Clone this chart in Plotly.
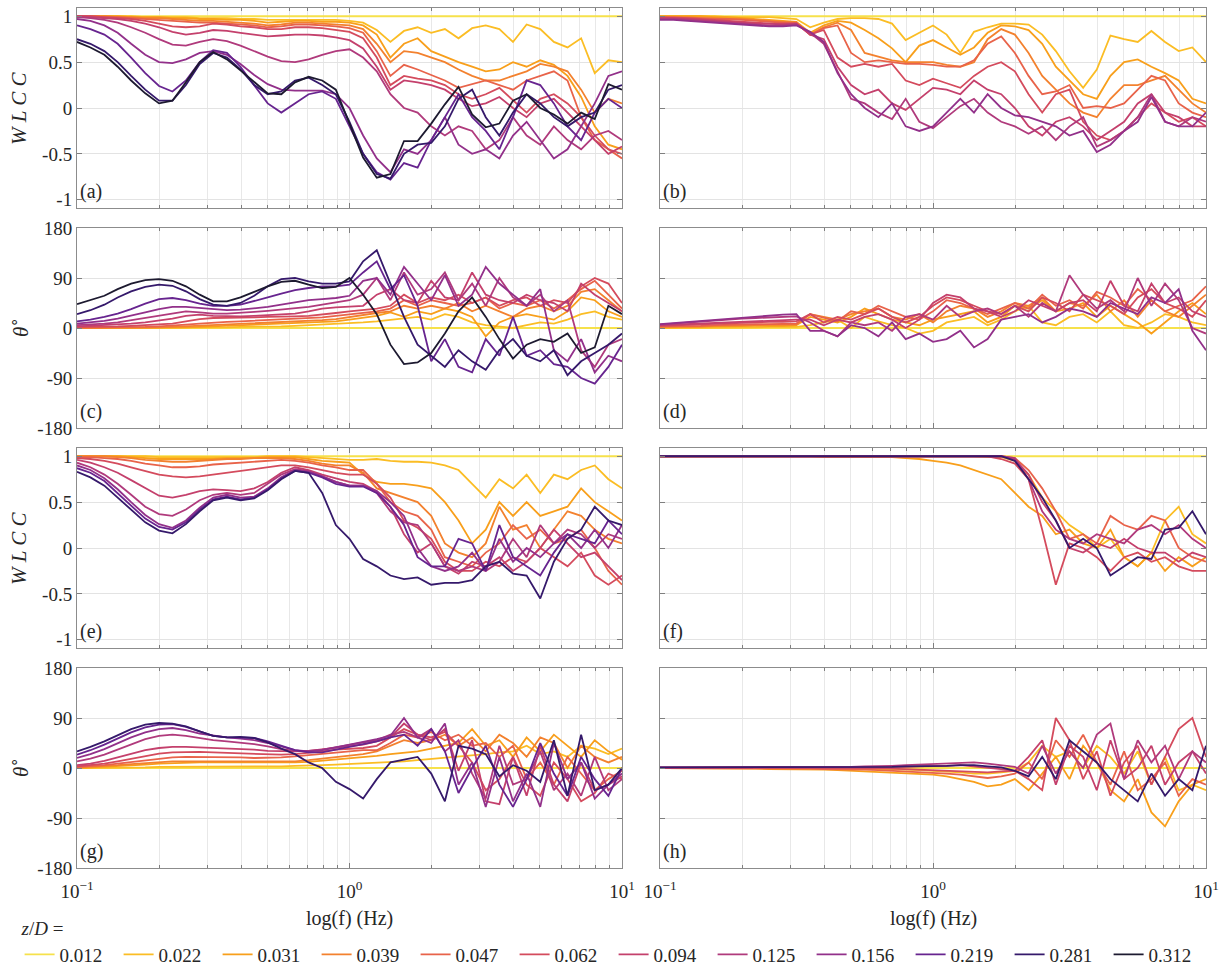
import plotly.graph_objects as go

# Frequency grid (Hz), 0.05-decade spacing from 0.1 to 10 Hz
FREQ = [0.1, 0.112, 0.126, 0.141, 0.158, 0.178, 0.2, 0.224, 0.251, 0.282, 0.316,
        0.355, 0.398, 0.447, 0.501, 0.562, 0.631, 0.708, 0.794, 0.891, 1.0,
        1.122, 1.259, 1.413, 1.585, 1.778, 1.995, 2.239, 2.512, 2.818, 3.162,
        3.548, 3.981, 4.467, 5.012, 5.623, 6.31, 7.079, 7.943, 8.913, 10.0]

ZD = ["0.012", "0.022", "0.031", "0.039", "0.047", "0.062",
      "0.094", "0.125", "0.156", "0.219", "0.281", "0.312"]
COLORS = ["#f6e14b", "#fbbd24", "#f89f1b", "#f3812e", "#e8634a", "#d44b5d",
          "#c4406c", "#b03a7c", "#92308a", "#67248f", "#35196b", "#1d1a30"]

# ---------------- (a) WLCC ----------------
A_012 = [1, 1, 1, 1, 1, 1, 1, 1, 1, 1, 1, 1, 1, 1, 1, 1, 1, 1, 1, 1, 1,
         1, 1, 1, 1, 1, 1, 1, 1, 1, 1, 1, 1, 1, 1, 1, 1, 1, 1, 1, 1]
A_022 = [1, 1, 1, 1, 1, .99, .99, .99, .99, .98, .98, .98, .97, .97, .96, .96, .96, .96, .96, .96, .95,
         .93, .85, .72, .84, .88, .82, .86, .76, .87, .9, .86, .72, .91, .86, .72, .66, .76, .38, .52, .5]
A_031 = [1, 1, 1, 1, .99, .99, .99, .98, .98, .97, .97, .96, .96, .95, .93, .94, .95, .95, .94, .94, .93,
         .9, .8, .55, .7, .76, .62, .56, .5, .45, .4, .42, .5, .45, .52, .47, .35, .12, -.2, -.4, -.45]
A_039 = [1, 1, 1, .99, .99, .98, .98, .97, .96, .95, .95, .94, .93, .92, .9, .91, .93, .93, .92, .91, .9,
         .86, .7, .5, .62, .6, .55, .5, .42, .35, .3, .3, .35, .4, .48, .45, .4, .2, -.05, .1, .05]
A_047 = [1, 1, .99, .99, .98, .97, .96, .95, .94, .93, .93, .92, .91, .9, .88, .89, .91, .91, .9, .89, .87,
         .82, .62, .35, .47, .42, .36, .3, .22, .26, .3, .25, .2, .3, .35, .4, .3, -.1, -.35, -.45, -.55]
A_062 = [1, 1, .99, .98, .97, .95, .92, .89, .88, .89, .92, .91, .89, .88, .86, .86, .88, .88, .87, .85, .83,
         .76, .55, .25, .35, .32, .3, .25, .15, .1, .15, .22, .08, -.05, .1, .15, .05, -.1, -.3, -.45, -.5]
A_094 = [1, .99, .98, .97, .95, .92, .88, .83, .8, .82, .85, .84, .82, .8, .78, .79, .8, .8, .79, .77, .74,
         .65, .45, .2, .3, .28, .25, .2, .1, .02, .05, .12, 0, -.1, .05, .1, -.05, -.2, -.35, -.5, -.42]
A_125 = [.99, .98, .96, .93, .88, .82, .75, .69, .68, .72, .75, .73, .68, .62, .56, .51, .5, .53, .58, .62, .64,
         .55, .4, .15, 0, -.05, -.2, -.3, -.2, -.25, -.45, -.35, -.1, -.3, -.4, -.2, -.35, -.45, -.3, -.25, -.35]
A_156 = [.97, .95, .9, .82, .7, .58, .5, .49, .53, .6, .62, .58, .48, .36, .26, .2, .19, .19, .19, .15, 0,
         -.3, -.55, -.7, -.45, -.5, -.35, -.1, -.4, -.5, -.45, -.55, -.3, -.15, -.35, -.55, -.45, -.2, .05, .35, .4]
A_219 = [.9, .86, .8, .7, .55, .38, .24, .18, .3, .5, .63, .6, .45, .25, .05, -.05, .05, .15, .18, .1, -.2,
         -.5, -.7, -.78, -.6, -.65, -.35, -.1, .15, -.1, -.25, -.45, -.1, .3, .25, .05, -.2, -.35, -.05, .1, 0]
A_281 = [.75, .7, .62, .5, .35, .2, .08, .08, .25, .48, .6, .55, .42, .25, .15, .18, .3, .33, .25, .15, -.15,
         -.5, -.72, -.77, -.5, -.4, -.38, -.2, .1, .2, -.1, -.3, -.05, .15, .05, -.1, -.2, -.1, -.05, .2, .25]
A_312 = [.72, .66, .58, .45, .3, .16, .05, .08, .28, .5, .61, .53, .41, .28, .16, .15, .28, .34, .3, .2, -.17,
         -.54, -.76, -.72, -.36, -.36, -.17, .04, .23, -.07, -.21, -.17, .08, .15, 0, -.07, -.17, -.05, -.12, .26, .2]

# ---------------- (b) WLCC ----------------
B_012 = [1, 1, 1, 1, 1, 1, 1, 1, 1, 1, 1, 1, 1, 1, 1, 1, 1, 1, 1, 1, 1,
         1, 1, 1, 1, 1, 1, 1, 1, 1, 1, 1, 1, 1, 1, 1, 1, 1, 1, 1, 1]
B_022 = [1, 1, 1, 1, 1, .99, .99, .99, .99, .98, .97, .88, .93, .97, .98, .98, .97, .92, .74, .82, .9,
         .8, .6, .83, .88, .92, .92, .91, .8, .62, .4, .22, .42, .79, .75, .72, .84, .72, .62, .66, .5]
B_031 = [1, 1, 1, 1, .99, .99, .98, .97, .96, .95, .94, .82, .9, .95, .93, .85, .76, .65, .5, .68, .74,
         .66, .58, .66, .82, .9, .89, .85, .7, .45, .3, .15, .1, .35, .5, .53, .45, .38, .3, .1, .05]
B_039 = [.99, .99, .99, .98, .98, .97, .97, .96, .95, .94, .93, .8, .88, .93, .85, .6, .56, .52, .5, .5, .5,
         .47, .45, .5, .75, .86, .8, .6, .35, .2, .05, -.05, -.1, .1, .25, .25, .3, .35, .2, .05, -.05]
B_047 = [.99, .99, .98, .98, .97, .97, .96, .95, .94, .93, .93, .8, .87, .9, .6, .5, .52, .5, .48, .48, .47,
         .45, .45, .52, .7, .78, .6, .35, .15, .18, .25, 0, .02, 0, .05, .2, .35, .3, .05, -.05, -.1]
B_062 = [.99, .98, .98, .97, .96, .95, .94, .93, .92, .92, .92, .8, .85, .55, .45, .48, .45, .48, .3, .25, .32,
         .27, .22, .35, .45, .5, .4, .15, -.05, .15, .2, -.15, -.3, -.35, -.25, -.1, .05, -.05, -.15, -.1, -.2]
B_094 = [.98, .98, .97, .96, .95, .94, .93, .92, .92, .91, .92, .8, .75, .45, .25, .15, .2, .05, -.02, .1, .22,
         .2, .15, .3, .2, .15, 0, -.2, -.3, -.15, -.1, -.2, -.35, -.25, -.15, .05, .15, -.05, -.1, -.2, -.2]
B_125 = [.97, .97, .96, .95, .94, .93, .92, .91, .9, .9, .91, .82, .7, .4, .1, .05, -.05, -.12, .1, -.15, -.22,
         -.1, .02, .1, -.05, -.15, -.2, -.28, -.2, -.35, -.2, -.1, -.42, -.35, -.25, -.1, .15, -.15, -.2, -.1, -.15]
B_156 = [.96, .96, .95, .94, .93, .92, .91, .9, .89, .89, .9, .83, .72, .38, .15, 0, -.1, .05, -.2, -.25, -.2,
         -.05, .1, -.05, .15, 0, -.08, -.1, -.15, -.2, -.3, -.25, -.48, -.4, -.25, -.15, .12, -.15, -.2, -.2, -.05]

# ---------------- (c) phase ----------------
C_012 = [0, 0, 0, 0, 0, 0, 0, 0, 0, 0, 0, 0, 0, 0, 0, 0, 0, 0, 0, 0, 0,
         0, 0, 0, 0, 0, 0, 0, 0, 0, 0, 0, 0, 0, 0, 0, 0, 0, 0, 0, 0]
C_022 = [0, 0, 0, 0, 0, 0, 0, 0, 0, 1, 1, 1, 2, 2, 3, 3, 4, 5, 6, 7, 8,
         10, 12, 15, 18, 20, 15, 25, 20, 10, 5, 2, 0, 5, 10, 8, 15, 25, 30, 20, 15]
C_031 = [0, 0, 0, 0, 0, 0, 0, 1, 1, 2, 3, 4, 5, 6, 7, 8, 9, 10, 11, 12, 15,
         18, 22, 28, 20, 30, 25, 35, 30, 20, -15, 10, 20, 25, 20, 15, 30, 55, 50, 30, 20]
C_039 = [0, 0, 1, 1, 1, 1, 1, 2, 3, 4, 5, 6, 7, 8, 9, 10, 11, 12, 14, 16, 20,
         24, 27, 30, 40, 35, 40, 35, 45, 30, 40, 30, 20, 35, 40, 30, 40, 65, 70, 50, 30]
C_047 = [1, 1, 1, 2, 2, 2, 3, 4, 6, 8, 10, 11, 12, 13, 14, 15, 16, 17, 19, 22, 25,
         28, 30, 35, 50, 40, 50, 45, 40, 45, 55, 35, 45, 40, 50, 35, 50, 70, 85, 60, 35]
C_062 = [2, 2, 3, 3, 4, 5, 6, 8, 12, 16, 18, 18, 18, 19, 20, 20, 21, 22, 24, 27, 30,
         33, 35, 40, 60, 45, 55, 50, 60, 45, 55, 40, 50, 55, 40, 50, 45, 75, 90, 80, 45]
C_094 = [3, 4, 5, 6, 8, 10, 13, 17, 22, 24, 22, 21, 21, 22, 23, 24, 26, 30, 35, 37, 38,
         40, 60, 70, 50, 45, 85, 55, 50, 100, 60, 50, 45, 60, 50, 45, 30, 80, 60, 45, 30]
C_125 = [5, 6, 8, 10, 14, 18, 23, 27, 30, 28, 26, 26, 27, 29, 31, 33, 35, 38, 42, 46, 50,
         60, 90, 50, 100, 60, 70, 100, 50, 80, 40, 90, 55, 40, 60, 30, 50, -40, -70, -30, -20]
C_156 = [8, 10, 13, 17, 22, 28, 34, 38, 38, 36, 33, 32, 33, 35, 38, 42, 46, 50, 52, 54, 58,
         85, 90, 60, 110, 80, 50, 95, 40, 60, 110, 80, 60, 40, 70, -40, -60, -20, -80, -50, -60]
C_219 = [12, 15, 20, 26, 34, 44, 52, 54, 50, 44, 40, 40, 42, 48, 55, 62, 68, 72, 75, 75, 78,
         100, 120, 70, 95, 40, -60, -20, -70, -80, -20, -50, 20, -50, -40, -65, -70, -90, -100, -70, -30]
C_281 = [25, 32, 42, 55, 66, 74, 78, 76, 66, 52, 42, 40, 45, 58, 75, 88, 90, 84, 80, 80, 84,
         120, 140, 80, 20, -30, -50, -70, -40, -60, -75, -40, -20, -50, -60, -40, -85, -60, -45, -30, -10]
C_312 = [43, 50, 58, 70, 80, 86, 88, 85, 75, 60, 48, 48, 55, 65, 75, 83, 85, 78, 72, 74, 90,
         60, 25, -30, -65, -62, -45, -10, 30, 55, 20, -20, -55, -30, -20, -25, -10, -45, -35, 40, 25]

# ---------------- (d) phase ----------------
D_012 = [0, 0, 0, 0, 0, 0, 0, 0, 0, 0, 0, 0, 0, 0, 0, 0, 0, 0, 0, 0, 0,
         0, 0, 0, 0, 0, 0, 0, 0, 0, 0, 0, 0, 0, 0, 0, 0, 0, 0, 0, 0]
D_022 = [0, 0, 0, 1, 1, 1, 1, 1, 2, 2, 2, 5, 10, 15, 0, 20, 12, 5, 0, -10, -5,
         10, 15, 20, 5, 15, 30, 40, 10, 5, 20, 25, 10, 30, 5, 0, 10, 25, 20, 10, 5]
D_031 = [1, 1, 2, 2, 3, 3, 3, 4, 4, 4, 5, 20, 15, 10, 20, 35, 25, 15, 10, 5, 15,
         20, 25, 30, 10, 20, 40, 35, 50, 30, 35, 45, 20, 40, 25, 10, -10, 10, 30, 45, 25]
D_039 = [2, 2, 3, 3, 4, 4, 5, 5, 6, 6, 6, 25, 20, 15, 25, 30, 35, 20, 15, 25, 10,
         30, 40, 35, 20, 30, 45, 40, 55, 30, 45, 40, 60, 30, 50, 20, 50, 30, 20, 40, 60]
D_047 = [3, 3, 4, 4, 5, 6, 6, 7, 7, 8, 8, 25, 18, 12, 30, 25, 40, 30, 20, 15, 30,
         50, 45, 35, 25, 35, 45, 35, 60, 40, 50, 35, 65, 55, 40, 70, 50, 30, 40, 50, 75]
D_062 = [4, 5, 5, 6, 7, 8, 9, 10, 11, 11, 12, 25, 10, 20, 15, 25, 35, 20, 10, 20, 40,
         55, 50, 40, 30, 25, 40, 30, 55, 45, 30, 60, 50, 40, 25, 55, 70, 45, 35, 20, 50]
D_094 = [5, 6, 7, 8, 9, 11, 12, 13, 14, 15, 15, 15, 5, 15, 10, 20, 25, 15, 0, 15, 45,
         60, 55, 35, 30, 20, 30, 50, 40, 30, 45, 50, 30, 85, 40, 30, 80, 45, 55, 30, 20]
D_125 = [6, 8, 10, 11, 13, 15, 17, 18, 19, 20, 21, 10, -5, -15, 10, 5, 10, -5, 20, 25, 15,
         40, 20, 30, 35, 25, 40, 20, 45, 30, 95, 60, 35, 50, 30, 90, 40, 80, 50, 0, -10]
D_156 = [7, 9, 11, 13, 15, 17, 19, 21, 23, 24, 25, -5, -5, -15, 5, 0, -15, 10, -20, -10, -25,
         -20, -5, -35, -20, 15, 20, 25, 10, 20, 35, 30, 20, 45, 35, 25, 55, 45, 70, -5, -40]

# ---------------- (e) WLCC ----------------
E_012 = [1, 1, 1, 1, 1, 1, 1, 1, 1, 1, 1, 1, 1, 1, 1, 1, 1, 1, 1, 1, 1,
         1, 1, 1, 1, 1, 1, 1, 1, 1, 1, 1, 1, 1, 1, 1, 1, 1, 1, 1, 1]
E_022 = [1, 1, 1, 1, 1, 1, .99, .99, .99, .99, .99, .99, .99, .99, 1, 1, 1, .99, .98, .97, .96,
         .96, .97, .95, .94, .94, .93, .9, .85, .7, .55, .75, .65, .8, .6, .8, .75, .85, .9, .75, .65]
E_031 = [1, 1, 1, 1, .99, .98, .97, .97, .97, .97, .97, .98, .98, .98, .99, .99, .99, .97, .95, .94, .93,
         .8, .72, .7, .7, .68, .65, .5, .3, .05, .2, .5, .35, .5, .35, .4, .45, .65, .5, .4, .3]
E_039 = [1, 1, 1, .99, .98, .96, .95, .94, .94, .95, .96, .97, .97, .98, .98, .98, .97, .95, .92, .9, .9,
         .82, .65, .6, .55, .5, .35, .05, -.05, -.1, .05, .45, .2, .25, 0, .2, .4, .35, .2, .1, .05]
E_047 = [.99, .99, .98, .97, .95, .92, .9, .88, .88, .89, .91, .92, .93, .94, .95, .96, .95, .93, .9, .88, .85,
         .85, .7, .5, .4, .35, .2, -.1, -.15, -.2, -.05, .05, .25, .1, .2, .05, .1, .2, 0, -.25, -.4]
E_062 = [.98, .97, .95, .92, .88, .84, .8, .78, .77, .78, .8, .82, .84, .86, .88, .9, .9, .88, .85, .82, .8,
         .8, .7, .55, .3, .22, .1, -.15, -.25, -.25, -.15, -.2, -.1, -.15, 0, -.1, -.2, -.05, -.3, -.4, -.3]
E_094 = [.96, .93, .88, .82, .74, .65, .57, .55, .58, .62, .64, .63, .62, .65, .72, .82, .88, .85, .8, .76, .72,
         .7, .62, .45, .15, -.05, .05, -.2, -.28, -.15, -.2, -.1, -.25, -.15, 0, .2, .05, -.1, -.05, -.2, -.35]
E_125 = [.93, .88, .8, .7, .58, .45, .37, .35, .42, .52, .58, .6, .58, .6, .7, .8, .86, .84, .78, .72, .68,
         .68, .6, .4, .28, .25, .05, -.2, -.25, -.2, -.25, -.15, .1, -.1, .25, .05, .2, .15, 0, .15, .1]
E_156 = [.9, .85, .76, .64, .5, .36, .26, .22, .3, .44, .55, .58, .55, .56, .65, .77, .85, .83, .78, .72, .68,
         .68, .62, .5, .35, 0, -.2, -.25, -.2, -.05, -.25, .1, -.15, 0, -.1, .05, .15, 0, .2, 0, .25]
E_219 = [.87, .82, .73, .6, .46, .32, .23, .2, .28, .42, .53, .56, .53, .55, .64, .76, .84, .82, .77, .7, .67,
         .67, .6, .45, .25, -.1, -.2, -.2, .1, .05, -.25, .25, -.1, -.2, -.3, -.05, .15, .1, .05, .3, .15]
E_281 = [.83, .77, .68, .55, .42, .28, .19, .16, .26, .4, .52, .55, .52, .54, .63, .75, .84, .82, .6, .25, .1,
         -.12, -.2, -.3, -.34, -.32, -.4, -.38, -.38, -.35, -.2, -.15, -.28, -.3, -.55, -.15, .1, .2, .45, .3, .25]

# ---------------- (f) WLCC ----------------
F_012 = [1, 1, 1, 1, 1, 1, 1, 1, 1, 1, 1, 1, 1, 1, 1, 1, 1, 1, 1, 1, 1,
         1, 1, 1, 1, 1, 1, 1, 1, 1, 1, 1, 1, 1, 1, 1, 1, 1, 1, 1, 1]
F_022 = [1, 1, 1, 1, 1, 1, 1, 1, 1, 1, 1, 1, 1, 1, 1, 1, 1, 1, 1, 1, 1,
         1, 1, 1, .99, .99, .95, .8, .55, .4, .25, .15, 0, .1, -.1, -.2, -.05, .3, .45, .15, .05]
F_031 = [1, 1, 1, 1, 1, 1, 1, 1, 1, 1, 1, 1, .99, .99, .99, .99, .99, .99, .98, .97, .95,
         .93, .9, .85, .8, .75, .6, .45, .35, .15, .2, .05, 0, .2, -.1, -.2, -.05, -.25, -.1, -.2, -.1]
F_047 = [1, 1, 1, 1, 1, 1, 1, 1, 1, 1, 1, 1, 1, 1, 1, 1, 1, 1, 1, 1, 1,
         1, 1, 1, 1, 1, .98, .85, .65, .4, .1, .15, .05, .35, .25, .2, .35, .3, 0, -.1, -.15]
F_062 = [1, 1, 1, 1, 1, 1, 1, 1, 1, 1, 1, 1, 1, 1, 1, 1, 1, 1, 1, 1, 1,
         1, 1, 1, 1, .97, .92, .75, .2, -.4, .05, 0, -.1, -.25, -.1, -.05, -.15, -.1, -.2, -.25, -.25]
F_094 = [1, 1, 1, 1, 1, 1, 1, 1, 1, 1, 1, 1, 1, 1, 1, 1, 1, 1, 1, 1, 1,
         1, 1, 1, 1, 1, .97, .8, .5, .3, 0, -.05, .05, 0, .1, 0, -.05, -.05, -.15, -.05, -.1]
F_125 = [1, 1, 1, 1, 1, 1, 1, 1, 1, 1, 1, 1, 1, 1, 1, 1, 1, 1, 1, 1, 1,
         1, 1, 1, 1, 1, .98, .75, .4, .2, .1, .05, .15, .1, .05, .2, .25, .15, .25, .1, 0]
F_281 = [1, 1, 1, 1, 1, 1, 1, 1, 1, 1, 1, 1, 1, 1, 1, 1, 1, 1, 1, 1, 1,
         1, 1, 1, 1, 1, .95, .75, .55, .3, 0, .1, 0, -.3, -.2, -.1, -.12, .2, .22, .4, .15]

# ---------------- (g) phase ----------------
G_012 = [0, 0, 0, 0, 0, 0, 0, 0, 0, 0, 0, 0, 0, 0, 0, 0, 0, 0, 0, 0, 0,
         0, 0, 0, 0, 0, 0, 0, 0, 0, 0, 0, 0, 0, 0, 0, 0, 0, 0, 0, 0]
G_022 = [0, 0, 0, 1, 1, 1, 2, 2, 2, 3, 3, 3, 3, 3, 3, 3, 4, 4, 5, 6, 7,
         8, 9, 10, 12, 14, 16, 18, 20, 22, 25, 28, 30, 40, 25, 30, 20, 40, 35, 25, 35]
G_031 = [0, 1, 2, 3, 5, 6, 8, 9, 10, 10, 10, 10, 10, 10, 9, 9, 10, 11, 13, 15, 18,
         20, 22, 25, 28, 30, 35, 40, 45, 70, 40, 50, 20, 55, 30, 60, 40, 20, 50, 30, 15]
G_039 = [1, 2, 3, 5, 7, 9, 11, 12, 12, 12, 12, 12, 11, 11, 11, 11, 12, 14, 17, 20, 22,
         25, 30, 40, 50, 45, 50, 60, 40, 55, 30, 60, 45, 20, 55, 45, 0, 40, 20, 10, 20]
G_047 = [2, 3, 5, 8, 11, 14, 17, 19, 20, 20, 20, 20, 19, 18, 18, 19, 21, 23, 26, 28, 30,
         32, 32, 45, 60, 55, 65, 50, 60, 40, 45, 20, 40, -20, 10, -30, 20, -10, -40, -20, -5]
G_062 = [3, 5, 8, 12, 17, 22, 26, 28, 29, 29, 28, 27, 26, 25, 24, 24, 25, 27, 30, 33, 35,
         36, 40, 55, 70, 60, 55, 65, 40, 10, -40, -20, 20, -30, -50, 10, -20, -60, -45, -10, -20]
G_094 = [5, 8, 13, 19, 26, 32, 36, 38, 38, 37, 36, 36, 35, 33, 31, 30, 30, 31, 34, 37, 40,
         42, 48, 55, 80, 60, 50, 70, -5, 50, -60, -65, 20, -50, 40, -30, -60, 10, -40, -30, -15]
G_125 = [12, 17, 24, 33, 43, 52, 58, 60, 58, 54, 50, 48, 46, 43, 39, 34, 31, 31, 33, 37, 42,
         45, 50, 60, 65, 55, 70, 30, 50, -10, -55, 40, -30, -20, 30, -40, -10, -50, 20, -40, -20]
G_156 = [18, 25, 34, 44, 55, 64, 70, 72, 68, 62, 58, 55, 53, 50, 45, 38, 32, 30, 32, 37, 42,
         46, 52, 58, 90, 55, 45, 80, -30, 10, -70, 20, -60, -10, -70, 45, -20, 10, -55, -30, -10]
G_219 = [24, 32, 42, 53, 64, 73, 78, 79, 74, 66, 58, 55, 55, 54, 48, 40, 32, 28, 28, 33, 38,
         42, 48, 55, 60, 40, 70, 30, -45, 0, 40, -30, -70, -20, 45, -10, -50, 20, -20, -50, 0]
G_281 = [30, 38, 48, 59, 70, 78, 81, 80, 75, 66, 58, 55, 56, 54, 46, 35, 25, 10, 0, -25, -38,
         -55, -20, 10, 15, 20, -10, -60, 40, 35, 25, -15, 5, -5, -25, 50, -50, 60, -40, -30, 0]

# ---------------- (h) phase ----------------
H_012 = [0, 0, 0, 0, 0, 0, 0, 0, 0, 0, 0, 0, 0, 0, 0, 0, 0, 0, 0, 0, 0,
         0, 0, 0, 0, 0, 0, 0, 0, 0, 0, 0, 0, 0, 0, 0, 0, 0, 0, 0, 0]
H_022 = [0, 0, 0, 0, 0, 0, 0, 0, 0, 0, 0, 0, -1, -1, -1, -2, -2, -3, -3, -4, -5,
         -6, -8, -10, -10, -8, -5, 10, 40, 20, 30, 0, 40, 20, -10, 30, -30, 20, -40, -30, -40]
H_031 = [0, 0, 0, 0, -1, -1, -1, -1, -2, -2, -2, -3, -3, -4, -5, -6, -7, -8, -9, -10, -12,
         -15, -20, -25, -33, -30, -20, -40, -10, 20, -20, 40, 10, -40, -60, -20, -80, -105, -60, -30, -20]
H_047 = [0, 0, 0, 0, 0, 0, 0, 0, -1, -1, -1, -1, -2, -2, -3, -3, -4, -5, -6, -7, -8,
         -10, -12, -15, -18, -15, -10, 10, -20, 50, 20, 60, 10, -30, 30, -40, -20, 10, -50, -20, -30]
H_062 = [0, 0, 0, 0, 0, 0, 0, 0, 0, 0, 0, 1, 1, 1, 1, 0, 0, -1, -2, -3, -3,
         -4, -5, -6, -8, -6, -5, -20, -40, 90, 50, -20, 30, -50, 10, 40, -30, 20, 70, 90, 20]
H_094 = [1, 1, 1, 1, 1, 1, 1, 1, 1, 1, 1, 1, 1, 2, 2, 2, 2, 2, 2, 3, 3,
         4, 5, 3, 0, -2, -5, 20, 50, -30, 40, 20, -40, 50, -20, 0, 40, -30, 10, 30, -10]
H_125 = [1, 1, 1, 1, 1, 1, 1, 1, 1, 1, 1, 1, 2, 2, 2, 3, 3, 4, 5, 6, 7,
         8, 10, 10, 8, 5, 2, -10, 40, -10, 30, 0, 60, 80, -20, 50, 10, 40, -20, 30, 10]
H_281 = [1, 1, 1, 1, 1, 1, 1, 1, 1, 1, 1, 1, 1, 1, 1, 2, 2, 2, 3, 3, 3,
         4, 5, 5, 3, 1, -5, -15, 20, -20, 50, 30, 10, -20, -40, -60, -10, -50, -20, -40, 40]

# panel letter, row, column, quantity, [(z/D index, values)]
PANELS = [
    ("a", 0, 0, "w", [(0, A_012), (1, A_022), (2, A_031), (3, A_039), (4, A_047), (5, A_062),
                      (6, A_094), (7, A_125), (8, A_156), (9, A_219), (10, A_281), (11, A_312)]),
    ("b", 0, 1, "w", [(0, B_012), (1, B_022), (2, B_031), (3, B_039), (4, B_047), (5, B_062),
                      (6, B_094), (7, B_125), (8, B_156)]),
    ("c", 1, 0, "p", [(0, C_012), (1, C_022), (2, C_031), (3, C_039), (4, C_047), (5, C_062),
                      (6, C_094), (7, C_125), (8, C_156), (9, C_219), (10, C_281), (11, C_312)]),
    ("d", 1, 1, "p", [(0, D_012), (1, D_022), (2, D_031), (3, D_039), (4, D_047), (5, D_062),
                      (6, D_094), (7, D_125), (8, D_156)]),
    ("e", 2, 0, "w", [(0, E_012), (1, E_022), (2, E_031), (3, E_039), (4, E_047), (5, E_062),
                      (6, E_094), (7, E_125), (8, E_156), (9, E_219), (10, E_281)]),
    ("f", 2, 1, "w", [(0, F_012), (1, F_022), (2, F_031), (4, F_047), (5, F_062),
                      (6, F_094), (7, F_125), (10, F_281)]),
    ("g", 3, 0, "p", [(0, G_012), (1, G_022), (2, G_031), (3, G_039), (4, G_047), (5, G_062),
                      (6, G_094), (7, G_125), (8, G_156), (9, G_219), (10, G_281)]),
    ("h", 3, 1, "p", [(0, H_012), (1, H_022), (2, H_031), (4, H_047), (5, H_062),
                      (6, H_094), (7, H_125), (10, H_281)]),
]

W, H = 1225, 968
COL_PX = [(77, 622), (660, 1206)]
ROW_PX = [(8, 208), (228, 428), (448, 648), (668, 868)]
FONT = "Liberation Serif"
TXT = "#262626"

fig = go.Figure()
layout = dict(
    width=W, height=H, margin=dict(l=0, r=0, t=0, b=0, autoexpand=False),
    paper_bgcolor="white", plot_bgcolor="white",
    font=dict(family=FONT, size=18, color=TXT),
    showlegend=True,
    legend=dict(orientation="h", x=0.016, y=-0.006, xanchor="left", yanchor="bottom",
                entrywidth=54, entrywidthmode="pixels", tracegroupgap=0,
                title=dict(text="<i>z</i>/<i>D</i> =", side="top", font=dict(size=19)),
                font=dict(size=19), bgcolor="rgba(0,0,0,0)"),
    annotations=[],
)

minor_vals = [0.2, 0.3, 0.4, 0.5, 0.6, 0.7, 0.8, 0.9, 2, 3, 4, 5, 6, 7, 8, 9]

for k, (letter, r, c, kind, curves) in enumerate(PANELS, start=1):
    xs = "" if k == 1 else str(k)
    x0, x1 = COL_PX[c]
    y0, y1 = ROW_PX[r]
    bottom = r == 3
    left = c == 0
    xdom = [x0 / W, x1 / W]
    ydom = [1 - y1 / H, 1 - y0 / H]

    for zi, vals in curves:
        fig.add_trace(go.Scatter(
            x=FREQ, y=vals, mode="lines", name=ZD[zi],
            line=dict(color=COLORS[zi], width=1.8),
            xaxis="x" + xs, yaxis="y" + xs,
            showlegend=(k == 1), legendrank=zi,
        ))

    layout["xaxis" + xs] = dict(
        type="log", range=[-1, 1], domain=xdom, anchor="y" + xs,
        tickmode="array", tickvals=[0.1, 1, 10],
        ticktext=["10<sup>−1</sup>", "10<sup>0</sup>", "10<sup>1</sup>"],
        showticklabels=bottom, ticks="inside", ticklen=5, tickcolor="#7f7f7f",
        ticklabelstandoff=6,
        showline=True, linecolor="#8c8c8c", linewidth=1, mirror="ticks",
        showgrid=True, gridcolor="#e3e3e3", gridwidth=1, zeroline=False,
        minor=dict(tickvals=minor_vals, ticks="inside", ticklen=3, tickcolor="#7f7f7f",
                   showgrid=True, gridcolor="#e8e8e8", gridwidth=1),
        tickfont=dict(size=19, family=FONT, color=TXT),
    )
    if kind == "w":
        yr, tv, tt = [-1.09, 1.09], [-1, -0.5, 0, 0.5, 1], ["-1", "-0.5", "0", "0.5", "1"]
    else:
        yr, tv, tt = [-180, 180], [-180, -90, 0, 90, 180], ["-180", "-90", "0", "90", "180"]
    layout["yaxis" + xs] = dict(
        range=yr, domain=ydom, anchor="x" + xs,
        tickmode="array", tickvals=tv, ticktext=tt, showticklabels=left,
        ticks="inside", ticklen=5, tickcolor="#7f7f7f",
        showline=True, linecolor="#8c8c8c", linewidth=1, mirror="ticks",
        showgrid=True, gridcolor="#e3e3e3", gridwidth=1, zeroline=False,
        tickfont=dict(size=19, family=FONT, color=TXT),
    )

    layout["annotations"].append(dict(
        text="(" + letter + ")", xref="paper", yref="paper",
        x=(x0 + 1) / W, y=1 - (y1 - 3) / H, xanchor="left", yanchor="bottom",
        showarrow=False, font=dict(size=20, family=FONT, color=TXT)))

    if left:
        title = "<i>W L C C</i>" if kind == "w" else "<i>θ</i><sup>∘</sup>"
        layout["annotations"].append(dict(
            text=title, xref="paper", yref="paper",
            x=19 / W, y=1 - (y0 + y1) / 2 / H, xanchor="center", yanchor="middle",
            textangle=-90, showarrow=False, font=dict(size=21, family=FONT, color=TXT)))

    if bottom:
        layout["annotations"].append(dict(
            text="log(f) (Hz)", xref="paper", yref="paper",
            x=(x0 + x1) / 2 / W, y=1 - 918 / H, xanchor="center", yanchor="middle",
            showarrow=False, font=dict(size=20, family=FONT, color=TXT)))

fig.update_layout(**layout)
fig.write_html("out.html")
